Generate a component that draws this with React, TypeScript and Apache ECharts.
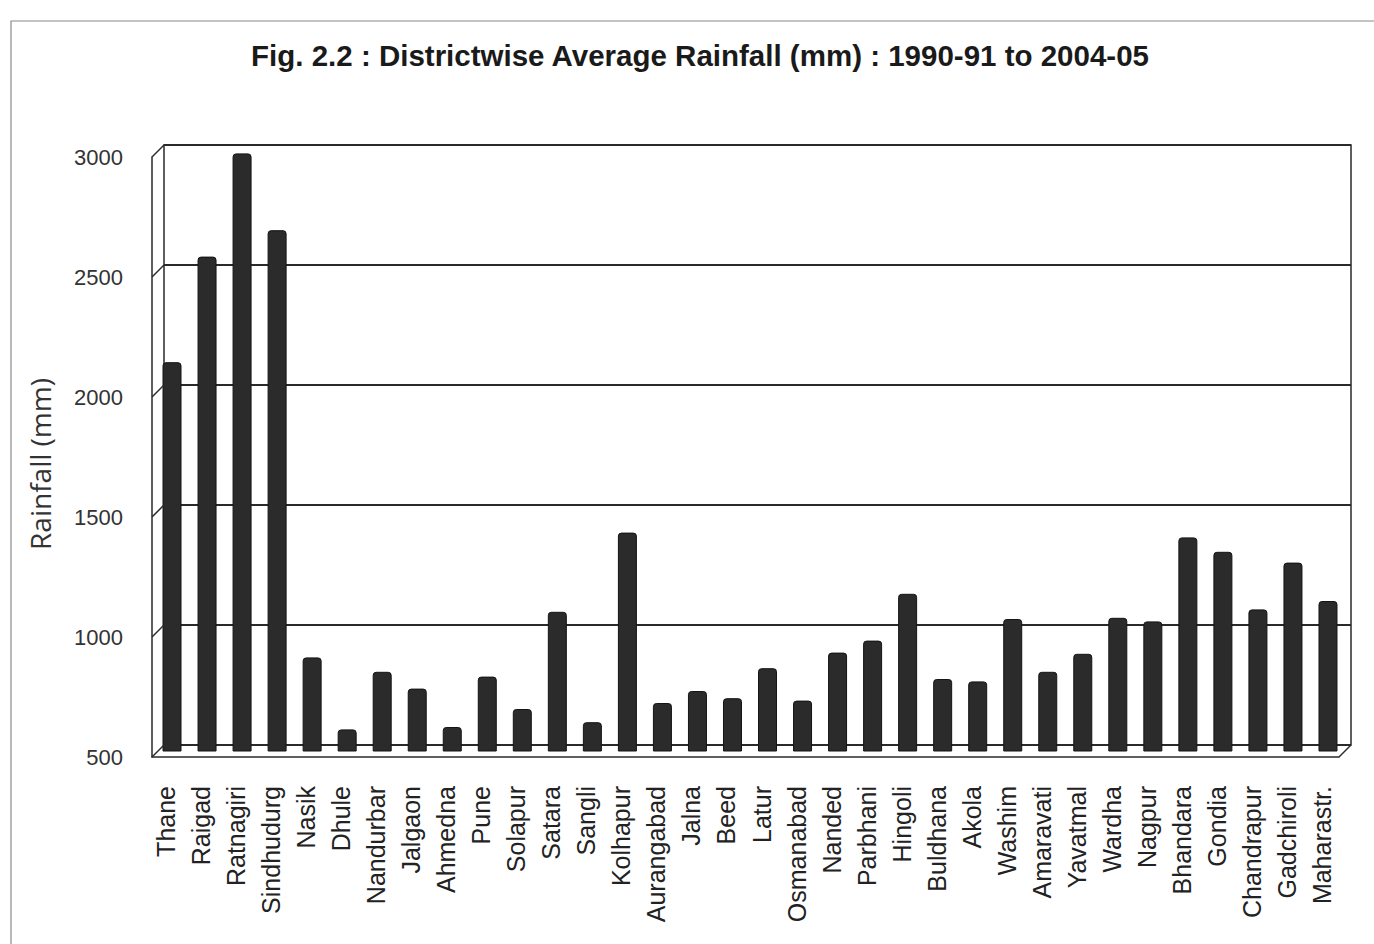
import React, { useEffect, useRef } from "react";
import * as echarts from "echarts";

const districts = [
  "Thane", "Raigad", "Ratnagiri", "Sindhudurg", "Nasik", "Dhule", "Nandurbar", "Jalgaon",
  "Ahmedna", "Pune", "Solapur", "Satara", "Sangli", "Kolhapur", "Aurangabad", "Jalna",
  "Beed", "Latur", "Osmanabad", "Nanded", "Parbhani", "Hingoli", "Buldhana", "Akola",
  "Washim", "Amaravati", "Yavatmal", "Wardha", "Nagpur", "Bhandara", "Gondia", "Chandrapur",
  "Gadchiroli", "Maharastr.",
];
const rainfall = [
  2120, 2560, 2990, 2670, 890, 590, 830, 760,
  600, 810, 675, 1080, 620, 1410, 700, 750,
  720, 845, 710, 910, 960, 1155, 800, 790,
  1050, 830, 905, 1055, 1040, 1390, 1330, 1090,
  1285, 1125,
];
const yMin = 500;
const yMax = 3000;
const yStep = 500;
const yTicks = [500, 1000, 1500, 2000, 2500, 3000];
const titleText = "Fig. 2.2 : Districtwise Average Rainfall (mm) : 1990-91 to 2004-05";
const yAxisTitle = "Rainfall (mm)";

const LINE = "#2a2a2a";

export default function App() {
  const ref = useRef<HTMLDivElement>(null);
  useEffect(() => {
    if (!ref.current) return;
    const chart = echarts.init(ref.current, undefined, { renderer: "svg" });
    const option: any = {
      animation: false,
      backgroundColor: "#ffffff",
      grid: [
        { left: 154.5, right: 28.5, top: 151, bottom: 193 },
        { left: 164, right: 23, top: 145, bottom: 199, show: true, borderColor: LINE, borderWidth: 1.5, backgroundColor: "transparent", z: 0 },
        { left: 152, right: 35, top: 157, bottom: 187 },
        { left: 148.5, right: 34.5, top: 157, bottom: 187 },
      ],
      xAxis: [
        { gridIndex: 0, type: "category", data: districts, show: false },
        { gridIndex: 1, type: "value", min: 0, max: 1, show: false },
        {
          gridIndex: 2,
          type: "value",
          min: 0,
          max: 1,
          axisLine: { show: true, lineStyle: { color: LINE, width: 1.5 } },
          axisTick: { show: false },
          axisLabel: { show: false },
          splitLine: { show: false },
        },
        {
          gridIndex: 3,
          type: "category",
          data: districts,
          axisLine: { show: false },
          axisTick: { show: false },
          splitLine: { show: false },
          axisLabel: {
            interval: 0,
            rotate: 90,
            margin: 29,
            fontSize: 25,
            fontFamily: "Liberation Sans",
            color: "#222",
          },
        },
      ],
      yAxis: [
        { gridIndex: 0, type: "value", min: yMin, max: yMax, interval: yStep, show: false },
        {
          gridIndex: 1,
          type: "value",
          min: yMin,
          max: yMax,
          interval: yStep,
          axisLine: { show: false },
          axisTick: { show: false },
          axisLabel: { show: false },
          splitLine: { show: true, lineStyle: { color: LINE, width: 1.8 } },
        },
        {
          gridIndex: 2,
          type: "value",
          min: yMin,
          max: yMax,
          interval: yStep,
          axisLine: { show: true, lineStyle: { color: LINE, width: 1.5 } },
          axisTick: { show: false },
          splitLine: { show: false },
          axisLabel: {
            margin: 29,
            fontSize: 22,
            fontFamily: "Liberation Sans",
            color: "#333",
            formatter: (v: number) => String(v),
          },
        },
        { gridIndex: 3, type: "value", min: yMin, max: yMax, interval: yStep, show: false },
      ],
      series: [
        {
          type: "bar",
          xAxisIndex: 0,
          yAxisIndex: 0,
          data: rainfall,
          barWidth: 19,
          itemStyle: { color: "#2b2b2b", borderColor: "#141414", borderWidth: 1, borderRadius: [3, 3, 0, 0] },
          z: 5,
        },
      ],
    };
    chart.setOption(option);

    const fx = chart.convertToPixel({ xAxisIndex: 2 }, 0) as number;
    const fxr = chart.convertToPixel({ xAxisIndex: 2 }, 1) as number;
    const bx = chart.convertToPixel({ xAxisIndex: 1 }, 0) as number;
    const bxr = chart.convertToPixel({ xAxisIndex: 1 }, 1) as number;
    const graphics: any[] = [
      {
        type: "rect",
        shape: { x: 11, y: 21, width: 1400, height: 1000 },
        style: { fill: "none", stroke: "#8a8a8a", lineWidth: 1.2 },
        z: 1,
      },
      {
        type: "text",
        x: 700,
        y: 55,
        style: {
          text: titleText,
          fontSize: 29.5,
          fontWeight: "bold",
          fontFamily: "Liberation Sans",
          fill: "#1a1a1a",
          textAlign: "center",
          textVerticalAlign: "middle",
        },
        z: 10,
      },
      {
        type: "text",
        x: 40,
        y: 464,
        rotation: Math.PI / 2,
        style: {
          text: yAxisTitle,
          fontSize: 28,
          fontFamily: "Open Sans",
          fill: "#333",
          textAlign: "center",
          textVerticalAlign: "middle",
        },
        z: 10,
      },
    ];
    yTicks.forEach((v) => {
      const yf = chart.convertToPixel({ yAxisIndex: 2 }, v) as number;
      const yb = chart.convertToPixel({ yAxisIndex: 1 }, v) as number;
      graphics.push({
        type: "line",
        shape: { x1: fx, y1: yf, x2: bx, y2: yb },
        style: { stroke: LINE, lineWidth: 1.5 },
        z: 10,
      });
    });
    const yfb = chart.convertToPixel({ yAxisIndex: 2 }, yMin) as number;
    const ybb = chart.convertToPixel({ yAxisIndex: 1 }, yMin) as number;
    graphics.push({
      type: "line",
      shape: { x1: fxr, y1: yfb, x2: bxr, y2: ybb },
      style: { stroke: LINE, lineWidth: 1.5 },
      z: 10,
    });
    chart.setOption({ graphic: graphics });

    return () => chart.dispose();
  }, []);
  return (
    <div
      ref={ref}
      style={{ position: "fixed", left: 0, top: 0, width: 1374, height: 944, background: "#fff" }}
    />
  );
}
